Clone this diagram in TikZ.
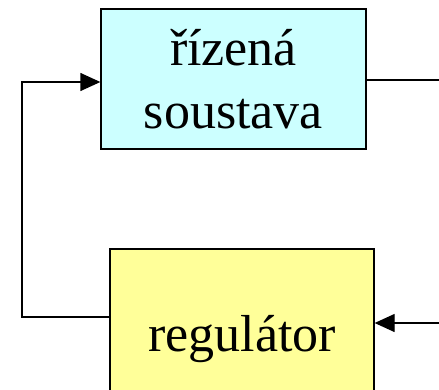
\documentclass[tikz,border=0pt]{standalone}
\usepackage{fontspec}
\setmainfont{Liberation Serif}
\usetikzlibrary{arrows.meta}
\begin{document}
\begin{tikzpicture}[x=1pt,y=-1pt,
  blk/.style={draw=black,line width=1.3pt,inner sep=0pt,align=center,
    font=\fontsize{52}{63}\selectfont},
  conn/.style={line width=1.3pt},
  arr/.style={conn,-{Triangle[length=20pt,width=18pt]}}]
\useasboundingbox (0,0) rectangle (439,389);
\clip (0,0) rectangle (439,389);
\node[blk,fill={rgb,255:red,204;green,255;blue,255},minimum width=265pt,minimum height=140pt] (sys) at (233.5,79) {řízená\\soustava};
\node[blk,fill={rgb,255:red,255;green,255;blue,153},minimum width=264pt,minimum height=180pt] (reg) at (242,339) {regulátor};
\coordinate (out) at (439,80);
\coordinate (in) at (439,323);
\coordinate (lb) at (22,317);
\draw[conn] (sys.east |- out) -- (out);
\draw[arr] (in) -- (reg.east |- in);
\draw[arr] ([yshift=22pt]reg.west) -- (lb) |- ([yshift=-3pt]sys.west);
\end{tikzpicture}
\end{document}
